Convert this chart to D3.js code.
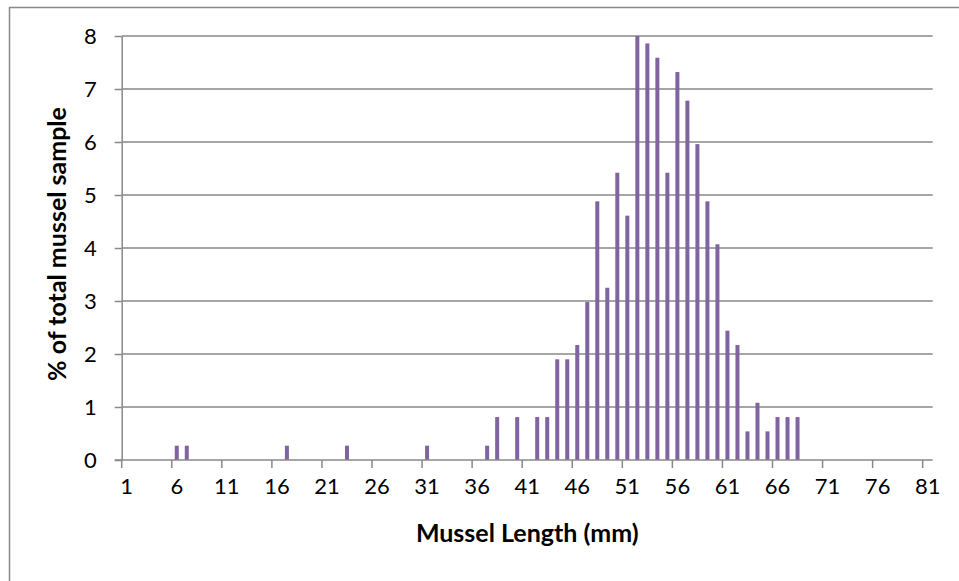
<!DOCTYPE html>
<html>
<head>
<meta charset="utf-8">
<script src="https://cdn.jsdelivr.net/npm/d3@7.9.0/dist/d3.min.js"></script>
<style>
  body { margin: 0; background: #fff; }
  svg { display: block; font-family: Lato, "Open Sans", sans-serif; }
</style>
</head>
<body>
<svg id="chart" width="959" height="581"></svg>
<script>
// ─── Data ───────────────────────────────────────────────────────────────────
const lengthCategories = d3.range(1, 82);            // 1 … 81 mm
const barLengths  = [6, 7, 17, 23, 31, 37, 38, 40, 42, 43, 44, 45, 46, 47, 48, 49, 50, 51,
                     52, 53, 54, 55, 56, 57, 58, 59, 60, 61, 62, 63, 64, 65, 66, 67, 68];
const barPercents = [0.27, 0.27, 0.27, 0.27, 0.27, 0.27, 0.81, 0.81, 0.81, 0.81, 1.9, 1.9,
                     2.17, 2.98, 4.88, 3.25, 5.42, 4.61, 8.0, 7.86, 7.59, 5.42, 7.32, 6.78,
                     5.96, 4.88, 4.07, 2.44, 2.17, 0.54, 1.08, 0.54, 0.81, 0.81, 0.81];
const xTickLabels = [1, 6, 11, 16, 21, 26, 31, 36, 41, 46, 51, 56, 61, 66, 71, 76, 81];
const yTickLabels = [0, 1, 2, 3, 4, 5, 6, 7, 8];

const bars = barLengths.map((len, i) => ({ len, pct: barPercents[i] }));

// ─── Layout ─────────────────────────────────────────────────────────────────
const svg = d3.select('#chart');
const plotLeft = 121.7, plotRight = 932.7, plotTop = 36, plotBottom = 460;
const gridColor = '#898989';

// outer chart-area border (runs off the right / bottom edge)
svg.append('rect')
    .attr('x', 9.5).attr('y', 7.5)
    .attr('width', 1000).attr('height', 1000)
    .attr('fill', 'none')
    .attr('stroke', gridColor)
    .attr('stroke-width', 1.5);

const x = d3.scaleBand()
    .domain(lengthCategories)
    .range([plotLeft, plotRight])
    .paddingInner(0.6)
    .paddingOuter(0.3);

const y = d3.scaleLinear()
    .domain([0, 8])
    .range([plotBottom, plotTop])
    .clamp(true);

// gridlines
svg.append('g')
    .selectAll('line')
    .data(yTickLabels.filter(d => d > 0))
    .join('line')
    .attr('x1', plotLeft).attr('x2', plotRight)
    .attr('y1', d => y(d)).attr('y2', d => y(d))
    .attr('stroke', gridColor)
    .attr('stroke-width', 1.5);

// bars
svg.append('g')
    .selectAll('rect')
    .data(bars)
    .join('rect')
    .attr('x', d => x(d.len))
    .attr('width', x.bandwidth())
    .attr('y', d => y(d.pct))
    .attr('height', d => y(0) - y(d.pct))
    .attr('fill', '#8064a2');

// ─── Axes ───────────────────────────────────────────────────────────────────
const yAxis = svg.append('g')
    .attr('transform', `translate(${plotLeft},0)`)
    .call(d3.axisLeft(y).tickValues(yTickLabels).tickSize(7).tickPadding(18).tickSizeOuter(0));

const xAxis = svg.append('g')
    .attr('transform', `translate(0,${plotBottom})`)
    .call(d3.axisBottom(x).tickValues(xTickLabels).tickSize(8).tickPadding(10).tickSizeOuter(0));

// ticks sit on category boundaries, labels stay centred under the category
xAxis.selectAll('.tick line')
    .attr('transform', `translate(${-x.step() / 2},0)`);

[xAxis, yAxis].forEach(g => {
    g.select('.domain').attr('stroke', gridColor).attr('stroke-width', 1.5);
    g.selectAll('.tick line').attr('stroke', gridColor).attr('stroke-width', 1.5);
    g.selectAll('.tick text')
        .attr('fill', '#000')
        .style('font-size', '22px')
        .style('font-family', 'Lato, "Open Sans", sans-serif');
});

// x axis line reaches back to the 0 tick on the left
xAxis.select('.domain').attr('d', `M${plotLeft - 7},0H${plotRight}`);

// ─── Titles ─────────────────────────────────────────────────────────────────
svg.append('text')
    .attr('x', (plotLeft + plotRight) / 2)
    .attr('y', 542)
    .attr('text-anchor', 'middle')
    .style('font-size', '25px')
    .style('font-weight', 'bold')
    .text('Mussel Length (mm)');

svg.append('text')
    .attr('transform', `translate(66,${(plotTop + plotBottom) / 2 - 4}) rotate(-90)`)
    .attr('text-anchor', 'middle')
    .style('font-size', '25px')
    .style('font-weight', 'bold')
    .text('% of total mussel sample');
</script>
</body>
</html>
